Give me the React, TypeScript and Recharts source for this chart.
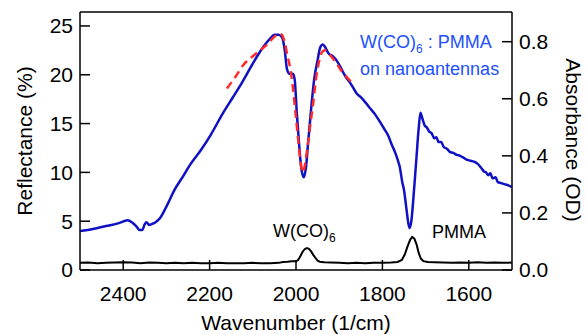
import React from "react";
import { LineChart, Line, XAxis, YAxis } from "recharts";

// reflectance of W(CO)6:PMMA on nanoantennas (%), left axis
const reflWn = [
  2500, 2470, 2440, 2410, 2390, 2380, 2370, 2362, 2356, 2350, 2346, 2340, 2334, 2325, 2315, 2300,
  2280, 2260, 2245, 2220, 2198, 2170, 2146, 2125, 2107, 2090, 2075, 2060, 2050, 2040, 2032, 2026,
  2021, 2015, 2007, 2003, 1998, 1993, 1988, 1982, 1977, 1972, 1965, 1958, 1950, 1944, 1938, 1932,
  1925, 1915, 1905, 1895, 1885, 1875, 1868, 1860, 1850, 1840, 1829, 1818, 1806, 1795, 1787, 1778,
  1771, 1764, 1760, 1754, 1750, 1745, 1740, 1737, 1733, 1728, 1722, 1716, 1712, 1708, 1702, 1697,
  1692, 1686, 1680, 1675, 1670, 1664, 1658, 1650, 1644, 1636, 1628, 1620, 1612, 1605, 1596, 1588,
  1580, 1572, 1565, 1560, 1555, 1550, 1545, 1538, 1533, 1525, 1518, 1510, 1500,
];
const reflVal = [
  4.0, 4.2, 4.5, 4.8, 5.1, 4.9, 4.5, 4.1, 4.1, 4.7, 4.9, 4.6, 4.7, 4.9, 5.3, 6.5,
  8.3, 9.7, 10.8, 12.3, 13.8, 16.0, 17.7, 19.2, 20.6, 21.9, 22.9, 23.7, 24.1, 24.1, 23.8, 22.5,
  20.6, 20.1, 20.1, 19.5, 16.0, 13.0, 10.5, 9.5, 10.5, 13.0, 16.5, 19.5, 21.5, 22.8, 23.1, 22.8,
  22.2, 21.9, 21.4, 20.6, 19.8, 19.2, 18.7, 18.1, 17.7, 17.2, 16.6, 16.0, 15.2, 14.4, 13.8, 12.8,
  12.1, 11.2, 10.6, 9.0, 8.2, 6.5, 4.8, 4.3, 5.0, 7.5, 11.0, 14.5, 16.1, 15.6, 14.8, 14.6,
  14.2, 14.0, 13.5, 13.6, 13.1, 13.1, 12.6, 12.4, 12.1, 12.0, 11.8, 11.7, 11.5, 11.3, 11.2, 11.1,
  10.9, 10.5, 10.1, 10.0, 9.7, 9.9, 9.4, 9.5, 9.0, 8.9, 8.8, 8.7, 8.5,
];

// fitted reflectance (red dashed)
const fitWn = [
  2160, 2140, 2122, 2100, 2080, 2067, 2052, 2040, 2033, 2026, 2020, 2014, 2008, 2002, 1996, 1990,
  1985, 1980, 1974, 1968, 1961, 1954, 1946, 1938, 1932, 1925, 1915, 1905, 1895, 1885, 1875, 1868,
];
const fitVal = [
  18.6, 19.8, 21.0, 21.9, 22.6, 23.1, 23.8, 24.2, 24.1, 23.3, 22.0, 20.8, 19.0, 16.5, 13.8, 11.3,
  10.0, 10.6, 12.4, 14.5, 16.8, 19.5, 21.5, 22.4, 22.5, 22.2, 21.7, 21.1, 20.4, 19.9, 19.4, 19.1,
];

// absorbance of the film (OD), right axis
const absWn = [
  2500, 2480, 2460, 2440, 2420, 2400, 2380, 2360, 2340, 2320, 2300, 2280, 2260, 2240, 2220, 2200,
  2180, 2160, 2140, 2120, 2100, 2080, 2060, 2040, 2030, 2020, 2010, 2000, 1995, 1990, 1985, 1980,
  1975, 1970, 1965, 1960, 1955, 1950, 1945, 1935, 1920, 1900, 1880, 1860, 1840, 1820, 1800, 1780,
  1765, 1755, 1748, 1742, 1736, 1731, 1726, 1721, 1716, 1711, 1705, 1695, 1680, 1660, 1640, 1620,
  1600, 1580, 1560, 1540, 1520, 1500,
];
const absVal = [
  0.025, 0.026, 0.024, 0.025, 0.026, 0.027, 0.026, 0.024, 0.026, 0.025, 0.024, 0.025, 0.024, 0.025, 0.024, 0.024,
  0.025, 0.024, 0.024, 0.024, 0.025, 0.024, 0.024, 0.025, 0.028, 0.029, 0.031, 0.031, 0.035, 0.048, 0.063, 0.073,
  0.077, 0.074, 0.065, 0.053, 0.042, 0.033, 0.029, 0.027, 0.026, 0.025, 0.024, 0.025, 0.024, 0.025, 0.025, 0.026,
  0.028, 0.035, 0.055, 0.082, 0.105, 0.116, 0.11, 0.09, 0.06, 0.04, 0.031, 0.028, 0.027, 0.026, 0.025, 0.026,
  0.025, 0.027, 0.025, 0.026, 0.025, 0.026,
];

const xTicks = [1600, 1800, 2000, 2200, 2400];
const reflTicks = [0, 5, 10, 15, 20, 25];
const absTicks = [0, 0.2, 0.4, 0.6, 0.8];

const zip = (xs: number[], ys: number[]) => xs.map((x, i) => ({ x, y: ys[i] }));
const reflData = zip(reflWn, reflVal);
const fitData = zip(fitWn, fitVal);
const absData = zip(absWn, absVal);

const FONT = "'Liberation Sans', Arial, sans-serif";
const tickStyle = { fill: "#000", fontSize: 21, fontFamily: FONT };
const axisLine = { stroke: "#000", strokeWidth: 1.5 };

const abs = (s: React.CSSProperties): React.CSSProperties => ({
  position: "absolute",
  whiteSpace: "nowrap",
  lineHeight: 1,
  fontFamily: FONT,
  ...s,
});

export default function App() {
  return (
    <div style={{ position: "absolute", left: 0, top: 0, width: 587, height: 335, background: "#fff" }}>
      <LineChart width={587} height={335} margin={{ top: 11, right: 15, bottom: 15, left: 20 }}>
        <XAxis
          xAxisId="b"
          dataKey="x"
          type="number"
          domain={[1500, 2500]}
          reversed
          ticks={xTicks}
          height={50}
          tickSize={-10}
          tickMargin={26}
          tick={tickStyle}
          axisLine={axisLine}
          tickLine={axisLine}
        />
        <XAxis
          xAxisId="t"
          orientation="top"
          dataKey="x"
          type="number"
          domain={[1500, 2500]}
          reversed
          ticks={xTicks}
          height={1}
          tickSize={-10}
          tickFormatter={() => ""}
          axisLine={axisLine}
          tickLine={axisLine}
        />
        <YAxis
          yAxisId="r"
          type="number"
          domain={[0, 26.43]}
          ticks={reflTicks}
          width={60}
          tickSize={-10}
          tickMargin={17}
          tick={tickStyle}
          axisLine={axisLine}
          tickLine={axisLine}
        />
        <YAxis
          yAxisId="a"
          orientation="right"
          type="number"
          domain={[0, 0.904]}
          ticks={absTicks}
          width={60}
          tickSize={-10}
          tickMargin={17}
          tick={tickStyle}
          tickFormatter={(v: number) => v.toFixed(1)}
          axisLine={axisLine}
          tickLine={axisLine}
        />
        <Line
          xAxisId="b"
          yAxisId="a"
          data={absData}
          dataKey="y"
          type="linear"
          stroke="#000"
          strokeWidth={2}
          dot={false}
          isAnimationActive={false}
        />
        <Line
          xAxisId="b"
          yAxisId="r"
          data={reflData}
          dataKey="y"
          type="monotone"
          stroke="#1010c4"
          strokeWidth={2.5}
          dot={false}
          isAnimationActive={false}
        />
        <Line
          xAxisId="b"
          yAxisId="r"
          data={fitData}
          dataKey="y"
          type="monotone"
          stroke="#ff2a2a"
          strokeWidth={2.5}
          strokeDasharray="8 5"
          dot={false}
          isAnimationActive={false}
        />
      </LineChart>

      <div style={abs({ left: 24, top: 141, fontSize: 21, transform: "translate(-50%, -50%) rotate(-90deg)" })}>
        Reflectance (%)
      </div>
      <div style={abs({ left: 573, top: 140, fontSize: 21, transform: "translate(-50%, -50%) rotate(90deg)" })}>
        Absorbance (OD)
      </div>
      <div style={abs({ left: 296, top: 312, fontSize: 21, transform: "translateX(-50%)" })}>
        Wavenumber (1/cm)
      </div>
      <div style={abs({ left: 360, top: 33, fontSize: 18, color: "#2050ff" })}>
        W(CO)<span style={{ fontSize: 12, position: "relative", top: 5 }}>6</span> : PMMA
      </div>
      <div style={abs({ left: 360, top: 60, fontSize: 18, color: "#2050ff" })}>on nanoantennas</div>
      <div style={abs({ left: 273, top: 222, fontSize: 18, color: "#000" })}>
        W(CO)<span style={{ fontSize: 12, position: "relative", top: 5 }}>6</span>
      </div>
      <div style={abs({ left: 432, top: 223, fontSize: 18, color: "#000" })}>PMMA</div>
    </div>
  );
}
